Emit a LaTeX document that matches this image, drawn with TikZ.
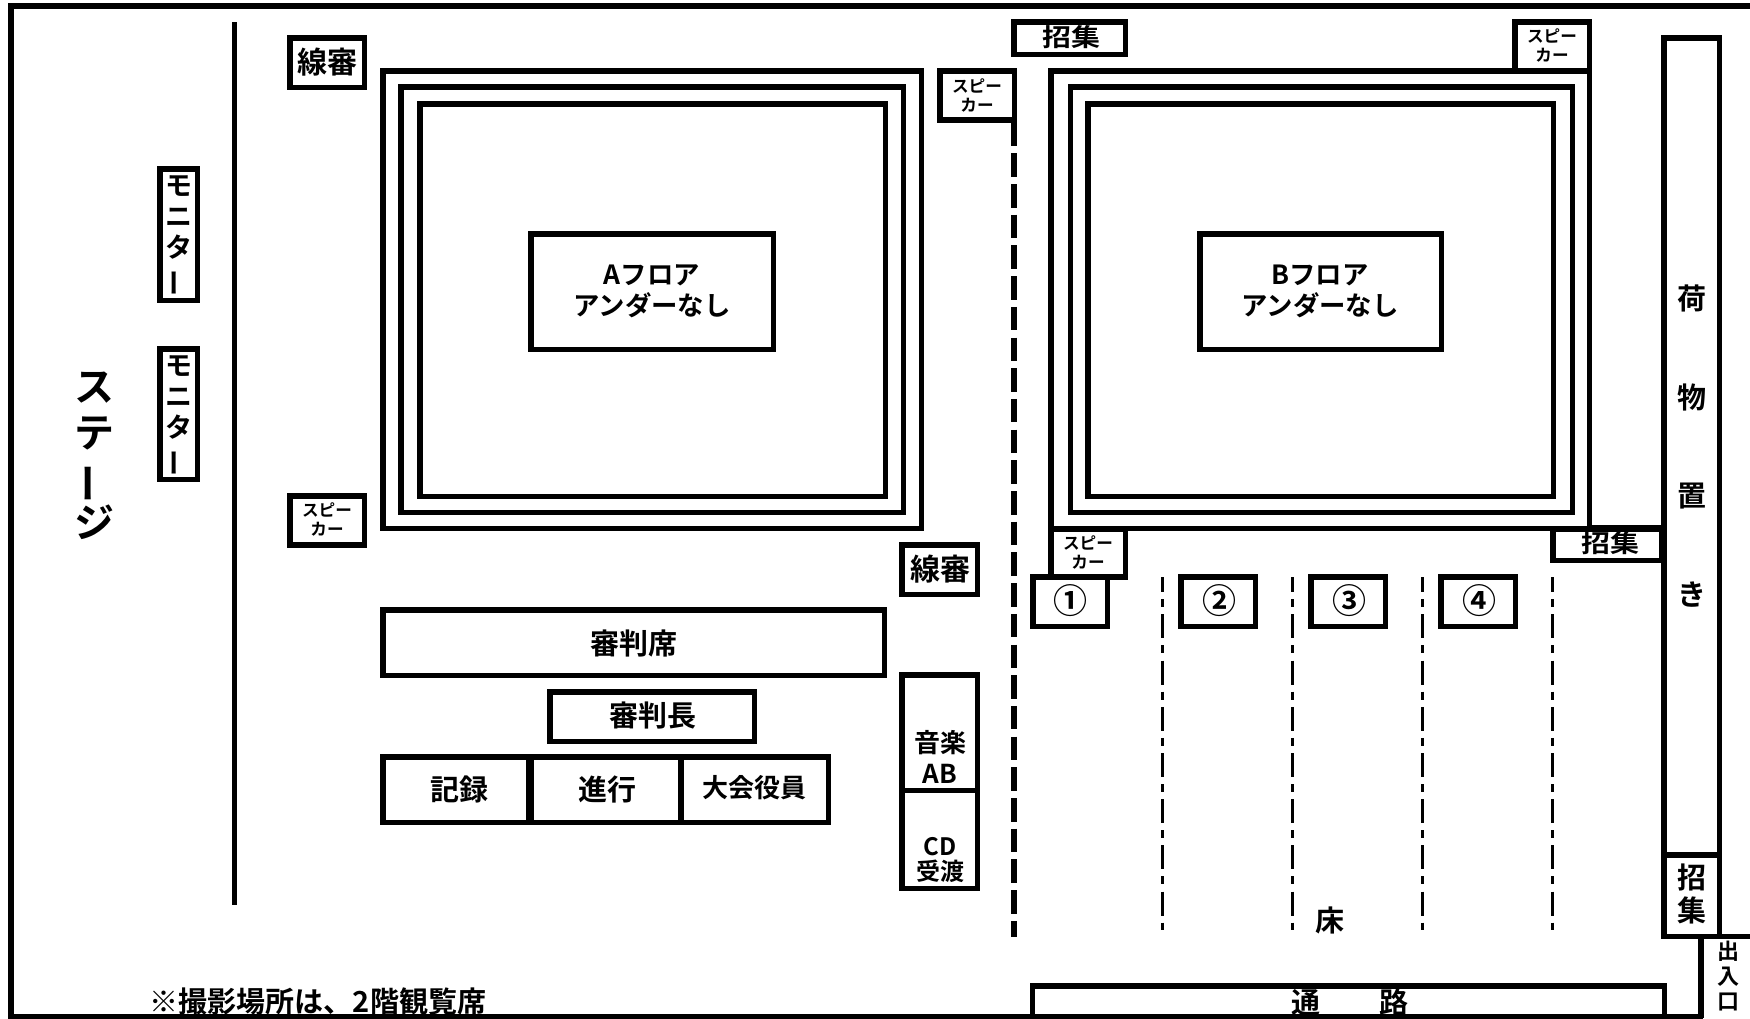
\documentclass[tikz,border=0pt]{standalone}
\usepackage{fontspec}
\setmainfont{Noto Sans CJK JP}[BoldFont={* Bold}]
\newfontfamily\cjkb{Noto Sans CJK JP Bold}
\newcommand\fsz[2]{\fontsize{#1}{#2}\selectfont}
\newcommand\vbar{\rotatebox[origin=c]{90}{ー}}
\newcommand\bx[4]{\draw[wall] ({#1+2.75},{#2+2.75}) rectangle ({#3-2.75},{#4-2.75});}
\tikzset{
  wall/.style={line width=2.75pt,draw=black,line join=miter},
  lab/.style={inner sep=0pt,align=center,text=black,font=\cjkb\fsz{#1}{#1}},
  lab/.default=15,
  spk/.style={inner sep=0pt,align=center,text=black,font=\cjkb\fsz{8.3}{9.5}},
  vmon/.style={inner sep=0pt,align=center,text=black,font=\cjkb\fsz{13.5}{15.5}},
  fine/.style={line width=1.5pt,draw=black,dash pattern=on 12pt off 3.5pt on 4pt off 3.6pt,dash phase=4.4pt},
  thick dash/.style={line width=3pt,draw=black,dash pattern=on 11.75pt off 3.6pt}
}
\begin{document}
\begin{tikzpicture}[x=0.5pt,y=-0.5pt]
\useasboundingbox (0,0) rectangle (1750,1018);
\fill[white] (0,0) rectangle (1750,1018);
% outer frame
\coordinate (f1) at (1750,6);
\coordinate (f2) at (11,6);
\coordinate (f3) at (11,1016.5);
\coordinate (f4) at (1703,1016.5);
\draw[wall] (f1) -- (f2) -- (f3) -- (f4);
% stage line
\coordinate (s1) at (234.3,22);
\coordinate (s2) at (234.3,905);
\draw[wall] (s1) -- (s2);
\node[inner sep=0pt,align=center,font=\cjkb\fsz{20}{22.7}] (stage) at (94,456) {ス\\テ\\\vbar\\ジ};
% monitors
\bx{157}{166}{200}{303}
\bx{157}{346}{200}{482}
\node[vmon] (mon1) at (178.5,236) {モ\\ニ\\タ\\\vbar};
\node[vmon] (mon2) at (178.5,416) {モ\\ニ\\タ\\\vbar};
% line judges
\bx{287}{35}{367}{90}
\node[lab=15] (sen1) at (327,62) {線審};
\bx{899}{542}{980}{597}
\node[lab=15] (sen2) at (940.5,569) {線審};
% speakers
\bx{287}{493}{367}{547.5}
\node[spk] (sp1) at (327,519) {スピー\\カー};
\bx{937}{68}{1017}{122.7}
\node[spk] (sp2) at (977,95.5) {スピー\\カー};
\bx{1512}{19}{1592}{74}
\node[spk] (sp3) at (1552,45) {スピー\\カー};
\bx{1048}{526}{1128}{579.5}
\node[spk] (sp4) at (1088,552) {スピー\\カー};
% floor A
\bx{380}{68}{924}{531}
\bx{398}{84}{906}{515}
\bx{417}{101}{888}{499}
\bx{528}{231}{776}{352}
\node[inner sep=0pt,align=center,font=\cjkb\fsz{13.2}{15.5}] (fa) at (652,291) {Aフロア\\アンダーなし};
% floor B
\bx{1048}{68}{1592}{531}
\bx{1067.5}{84}{1575}{515}
\bx{1085}{101}{1556}{499}
\bx{1197}{231}{1444}{352}
\node[inner sep=0pt,align=center,font=\cjkb\fsz{13.2}{15.5}] (fb) at (1320,291) {Bフロア\\アンダーなし};
\coordinate (b1) at (1592,528.2);
\coordinate (b2) at (1664,528.2);
\draw[wall] (b1) -- (b2);
% call desks
\bx{1011}{19}{1128}{57}
\node[lab=14.5] (call1) at (1071,37) {\scalebox{1}[.85]{招集}};
\bx{1550}{526}{1664}{563.4}
\node[lab=14.5] (call2) at (1610,543) {\scalebox{1}[.85]{招集}};
% judges
\bx{380}{607}{887}{678}
\node[lab=14.5] (shin) at (633.5,643) {審判席};
\bx{547}{689}{757}{744}
\node[lab=14.5] (cho) at (652.5,715.5) {審判長};
\bx{380}{754}{531}{825}
\bx{528}{754}{683}{825}
\bx{678}{754}{831}{825}
\node[lab=14.5] (rec) at (459,789) {記録};
\node[lab=14.5] (prog) at (607,789) {進行};
\node[lab=13] (off) at (754,788) {大会役員};
% music
\bx{899}{672}{980}{793}
\bx{899}{787.5}{980}{891}
\node[inner sep=0pt,align=center,font=\cjkb\fsz{13}{15.5}] (mus) at (940,757) {音楽\\AB};
\node[inner sep=0pt,align=center,font=\cjkb\fsz{12}{12.5}] (cd) at (940,860) {CD\\受渡};
% division lines
\coordinate (d1) at (1013.7,122.6);
\coordinate (d2) at (1013.7,937);
\draw[thick dash] (d1) -- (d2);
\foreach \i/\x in {a/1162.5,b/1292,c/1422,d/1552.6}{
  \coordinate (t\i) at (\x,577);
  \coordinate (u\i) at (\x,930);
  \draw[fine] (t\i) -- (u\i);
}
% courts
\bx{1030}{574}{1110}{629}
\bx{1178}{574}{1258}{629}
\bx{1308}{574}{1388}{629}
\bx{1438}{574}{1518}{629}
\node[lab=17] (n1) at (1070,601) {①};
\node[lab=17] (n2) at (1219.5,601) {②};
\node[lab=17] (n3) at (1349,601) {③};
\node[lab=17] (n4) at (1479,601) {④};
\node[lab=14.5] (yuka) at (1330,920) {床};
% luggage
\bx{1661}{35}{1722}{857}
\node[inner sep=0pt,align=center,font=\cjkb\fsz{14.5}{49.2}] (nim) at (1691.5,446) {荷\\物\\置\\き};
\bx{1661}{852}{1722}{939}
\node[inner sep=0pt,align=center,font=\cjkb\fsz{14.5}{16.5}] (call3) at (1691.5,894) {招\\集};
% entrance
\coordinate (e1) at (1701,1018);
\coordinate (e2) at (1701,936.5);
\coordinate (e3) at (1750,936.5);
\draw[wall] (e1) -- (e2) -- (e3);
\node[inner sep=0pt,align=center,font=\cjkb\fsz{11}{12.5}] (ent) at (1728.5,976) {出\\入\\口};
% corridor
\coordinate (c1) at (1032.7,1018);
\coordinate (c2) at (1032.7,986);
\coordinate (c3) at (1664.3,986);
\coordinate (c4) at (1664.3,1018);
\draw[wall] (c1) -- (c2) -- (c3) -- (c4);
\node[lab=14.5] (path) at (1350,1002) {通\hspace{30pt}路};
% note
\node[lab=14.5] (note) at (318,1001) {※撮影場所は、2階観覧席};
\end{tikzpicture}
\end{document}
